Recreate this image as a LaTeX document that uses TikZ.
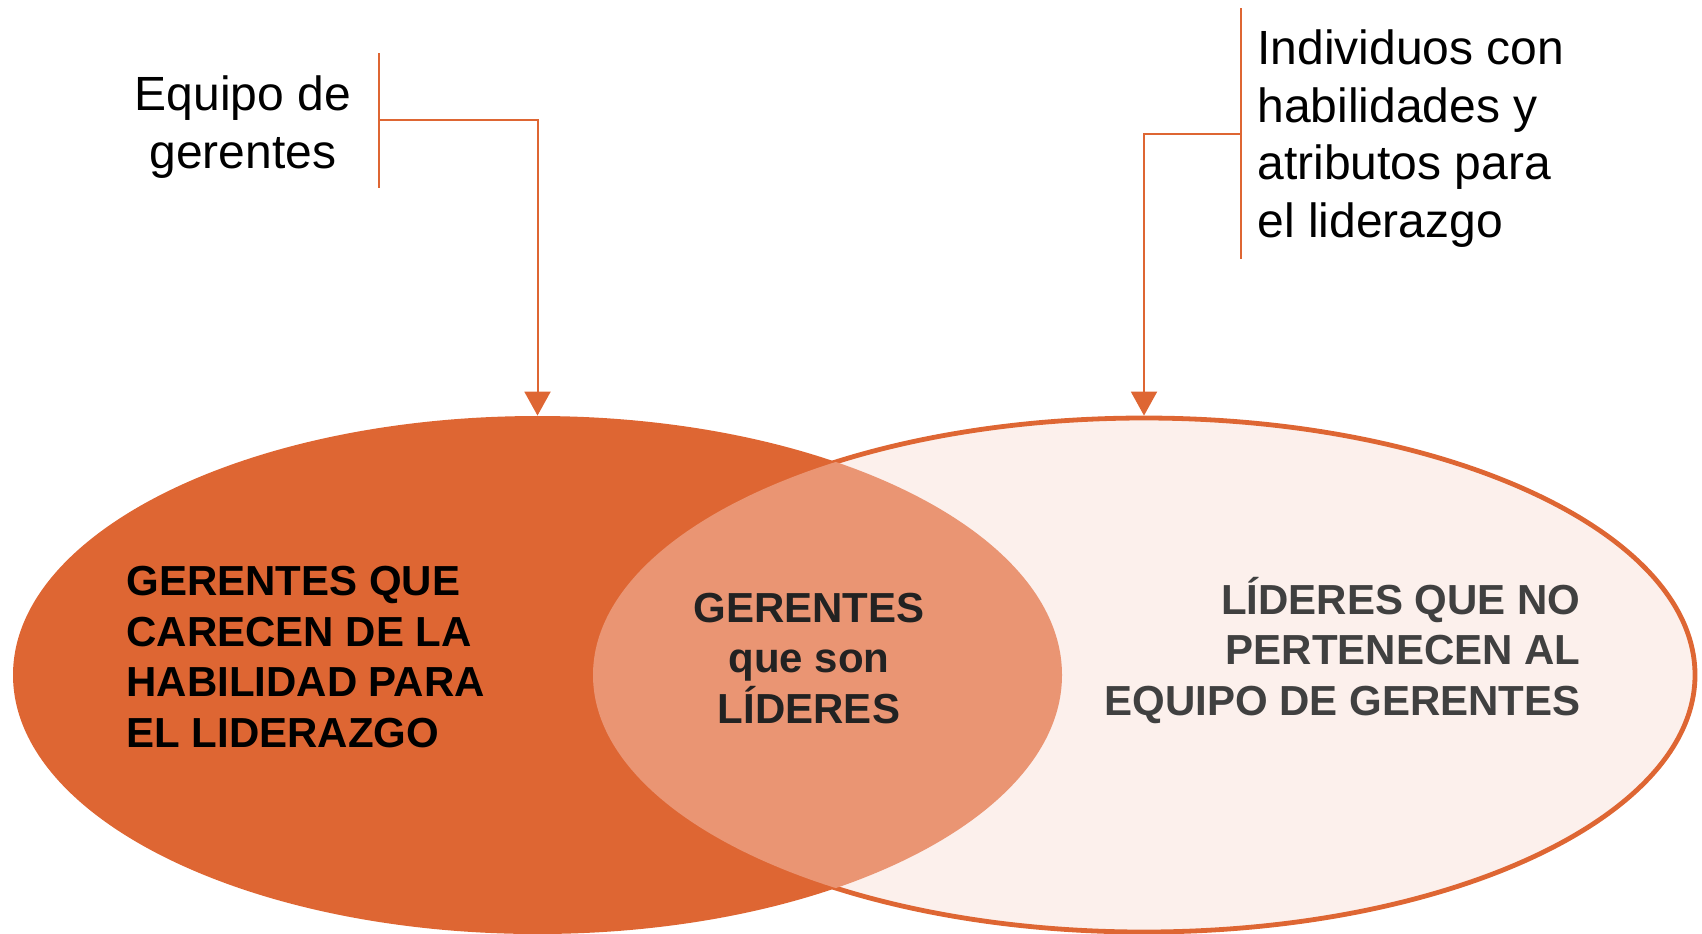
\documentclass[tikz,border=0pt]{standalone}
\usepackage{fontspec}
\setmainfont{Liberation Sans}
\usetikzlibrary{arrows.meta,shapes.geometric}
\definecolor{org}{HTML}{DE6633}
\definecolor{midorg}{HTML}{EA9573}
\definecolor{lightorg}{HTML}{FCF0EC}
\definecolor{txtdark}{HTML}{222222}
\definecolor{txtgray}{HTML}{404040}
\begin{document}
\begin{tikzpicture}[x=0.5pt,y=-0.5pt,
  venn/.style={ellipse, inner sep=0pt},
  callout/.style={font=\fontsize{24pt}{28.75pt}\selectfont, inner sep=0pt, text=black},
  boldtxt/.style={font=\fontsize{21pt}{25.25pt}\selectfont\bfseries, inner sep=0pt},
  bracketline/.style={draw=org, line width=1pt},
  arr/.style={draw=org, line width=1pt, -{Triangle[width=13pt,length=12pt]}}
]
\useasboundingbox (0,0) rectangle (1702,933);
% ellipses
\node[venn, fill=org, minimum width=524.5pt, minimum height=259pt] (L) at (537.5,675) {};
\node[venn, fill=lightorg, draw=org, line width=2.4pt, minimum width=551pt, minimum height=257pt] (R) at (1144,675) {};
\begin{scope}
  \clip (L.center) ellipse [x radius=524.5, y radius=259];
  \fill[midorg] (R.center) ellipse [x radius=551, y radius=257];
\end{scope}
% labels inside (base anchor = baseline of last line)
\node[boldtxt, text=black, anchor=base west, align=left] (tl) at (126,747)
  {GERENTES QUE\\CARECEN DE LA\\HABILIDAD PARA\\EL LIDERAZGO};
\node[boldtxt, text=txtdark, anchor=base, align=center] (tm) at (809,723)
  {GERENTES\\que son\\LÍDERES};
\node[boldtxt, text=txtgray, anchor=base east, align=right] (tr) at (1581,715)
  {LÍDERES QUE NO\\PERTENECEN AL\\EQUIPO DE GERENTES};
% callout texts
\node[callout, anchor=base, align=center] (eq) at (243,168) {Equipo de\\gerentes};
\node[callout, anchor=base west, align=left] (ind) at (1257,237)
  {Individuos con\\habilidades y\\atributos para\\el liderazgo};
% brackets
\coordinate (lt) at (379,53);
\coordinate (lb) at (379,188);
\coordinate (lm) at (379,120);
\coordinate (rt) at (1241,8);
\coordinate (rb) at (1241,259);
\coordinate (rm) at (1241,134);
\draw[bracketline] (lt) -- (lb);
\draw[bracketline] (rt) -- (rb);
\draw[arr] (lm) -| (L.north);
\draw[arr] (rm) -| (R.north);
\end{tikzpicture}
\end{document}
